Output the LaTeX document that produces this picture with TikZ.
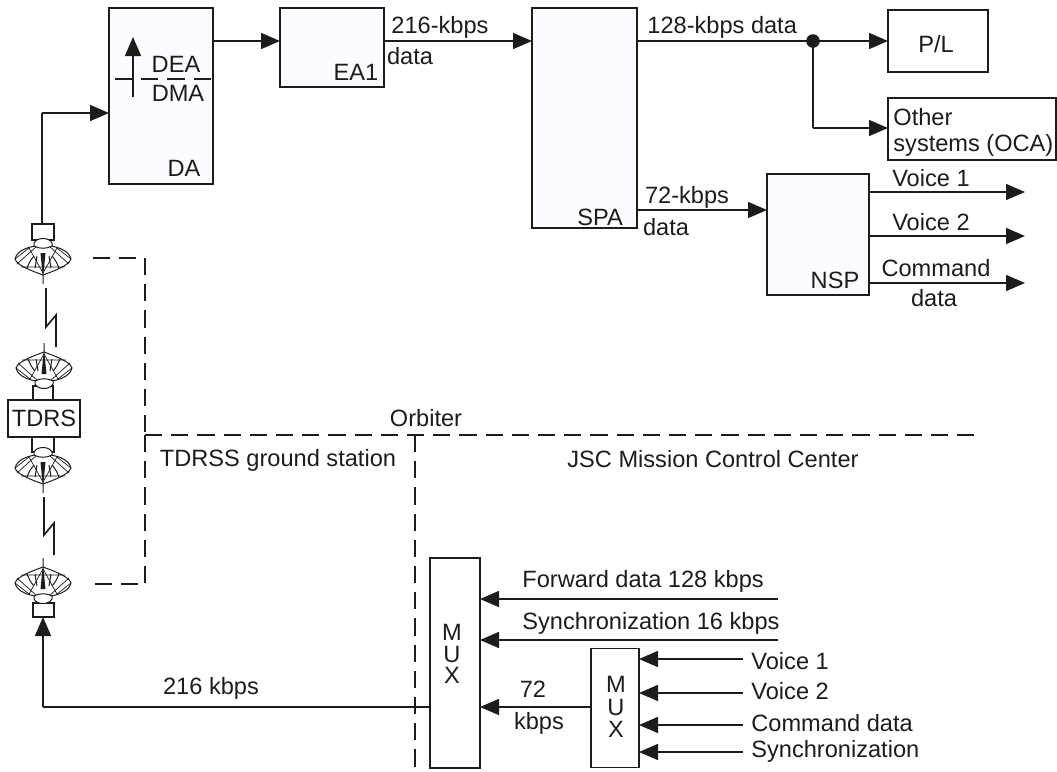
\documentclass[tikz,border=0pt]{standalone}
\usepackage{fontspec}
\setmainfont{Liberation Sans}
\usepackage{tikz}
\usetikzlibrary{arrows.meta,positioning,calc}
\definecolor{ink}{HTML}{1E1C1A}
\definecolor{panel}{HTML}{FBFCFF}

\begin{document}
\begin{tikzpicture}[
  x=0.5pt,y=-0.5pt,
  unit/.style={draw=ink,fill=panel,line width=0.8pt,inner sep=0pt,outer sep=0pt},
  plainbox/.style={draw=ink,fill=white,line width=0.7pt,inner sep=0pt,outer sep=0pt},
  txt/.style={font=\fontsize{11.8}{14}\selectfont,text=ink,inner sep=0pt},
  link/.style={ink,line width=0.8pt},
  flow/.style={ink,line width=0.8pt,-{Triangle[length=9.5pt,width=8pt]}},
  bound/.style={ink,line width=0.7pt,dash pattern=on 8.6pt off 4.5pt},
  bolt/.style={ink,line width=0.8pt},
  pics/dish/.style={code={
    \draw[ink,line width=0.5pt,fill=white] (-28,0) .. controls (-24,-18) and (24,-18) .. (28,0)
      .. controls (26,7) and (8,13) .. (0,16) .. controls (-8,13) and (-26,7) .. (-28,0) -- cycle;
    \draw[ink,line width=0.35pt] (-28,0) -- (-14,-11) -- (0,14) -- (14,-11) -- (28,0);
    \draw[ink,line width=0.35pt] (-26,5) -- (-6,-13) (26,5) -- (6,-13) (-22,8) -- (22,8);
    \draw[ink,line width=0.5pt] (-16,9) .. controls (-13,2) .. (-9,-3) (16,9) .. controls (13,2) .. (9,-3)
      (-8,9) -- (-6,-3) (8,9) -- (6,-3);
    \fill[ink] (-2.5,-6) -- (2.5,-6) -- (0.5,14) -- (0.5,25) -- (-0.5,25) -- (-0.5,14) -- cycle;
    \draw[ink,line width=0.5pt,fill=white] (-9,-13) -- (-9,-16) .. controls (-6,-22) and (6,-22) .. (9,-16) -- (9,-13)
      .. controls (4,-10) and (-4,-10) .. (-9,-13) -- cycle;
  }}
]
  % Orbiter units
  \node[unit,minimum width=52pt,minimum height=88pt] (da) at (161,96) {};
  \node[unit,minimum width=52pt,minimum height=39.5pt] (ea1) at (332,47.5) {};
  \node[unit,minimum width=52.5pt,minimum height=110pt] (spa) at (584.5,118) {};
  \node[unit,minimum width=51pt,minimum height=60.5pt] (nsp) at (818,234.5) {};
  \node[plainbox,minimum width=50pt,minimum height=31pt] (pl) at (938,41) {};
  \node[plainbox,minimum width=84pt,minimum height=31pt] (ocabox) at (972,129) {};

  % Ground multiplexers
  \node[plainbox,line width=0.8pt,minimum width=25pt,minimum height=105pt] (muxa) at (455,663) {};
  \node[plainbox,line width=0.8pt,minimum width=24pt,minimum height=59.5pt] (muxb) at (615,708) {};

  % Box captions
  \node[txt] (dacap) at (184,168) {DA};
  \node[txt] (deacap) at (176,64) {DEA};
  \node[txt] (dmacap) at (178,93) {DMA};
  \node[txt] (eacap) at (356,72) {EA1};
  \node[txt] (spacap) at (600,217) {SPA};
  \node[txt] (nspcap) at (835,280) {NSP};
  \node[txt] (plcap) at (936,44) {P/L};
  \node[txt,anchor=west] (ocaa) at (893,117) {Other};
  \node[txt,anchor=west] (ocab) at (893,145) {systems (OCA)};
  \node[txt,align=center,font=\fontsize{11.8}{10.6}\selectfont] (muxacap) at (452,654) {M\\U\\X};
  \node[txt,align=center,font=\fontsize{11.8}{11.3}\selectfont] (muxbcap) at (616,707) {M\\U\\X};

  % Inside DA
  \coordinate (dal) at (115,79);
  \coordinate (arb) at (133,97);
  \coordinate (art) at (133,37);
  \draw[bound,line width=0.6pt] (dal) -- (da.east |- dal);
  \draw[ink,line width=0.6pt,-{Triangle[length=9.5pt,width=8pt]}] (arb) -- (art);

  % Antennas and relay
  \node[plainbox,minimum width=11pt,minimum height=8pt] (hda) at (43,232) {};
  \node[plainbox,minimum width=10pt,minimum height=7pt] (hdb) at (43,393) {};
  \node[plainbox,minimum width=36pt,minimum height=18.5pt] (tdrs) at (44,418.5) {};
  \node[txt] (tdrscap) at (44,418) {TDRS};
  \node[plainbox,minimum width=11pt,minimum height=7.5pt] (hdc) at (43,444.5) {};
  \node[plainbox,minimum width=10.5pt,minimum height=7pt] (hdd) at (43.5,610) {};
  \pic at (43,259) {dish};
  \pic at (44,368) [yscale=-1] {dish};
  \pic at (43,468) {dish};
  \pic at (43,583) [yscale=-1] {dish};

  % Radio links
  \coordinate (ba) at (46,288);
  \coordinate (bb) at (46,327);
  \coordinate (bc) at (56,315);
  \coordinate (bd) at (56,347);
  \draw[bolt] (ba) -- (bb) -- (bc) -- (bd);
  \coordinate (be) at (44,497);
  \coordinate (bf) at (44,535);
  \coordinate (bg) at (54,523);
  \coordinate (bh) at (54,555);
  \draw[bolt] (be) -- (bf) -- (bg) -- (bh);

  % Orbiter paths
  \coordinate (dain) at (42,113);
  \coordinate (daout) at (213,41);
  \coordinate (spain) at (384,41);
  \coordinate (spaout) at (637,41);
  \coordinate (branch) at (813,41);
  \coordinate (ocain) at (813,128);
  \coordinate (nspin) at (637,210);
  \draw[link] (hda.north -| dain) -- (dain);
  \draw[flow] (dain) -- (da.west |- dain);
  \draw[flow] (daout) -- (ea1.west |- daout);
  \draw[flow] (spain) -- (spa.west |- spain);
  \draw[flow] (spaout) -- (pl.west |- spaout);
  \fill[ink] (branch) circle (3.4pt);
  \draw[link] (branch) -- (ocain);
  \draw[flow] (ocain) -- (ocabox.west |- ocain);
  \draw[flow] (nspin) -- (nsp.west |- nspin);
  \foreach \n/\y in {va/192,vb/236,vc/283}{
    \coordinate (\n) at (1025,\y);
    \draw[flow] (nsp.east |- \n) -- (\n);
  }
  \node[txt] (lab216) at (440,27) {216-kbps};
  \node[txt] (labd1) at (410,56) {data};
  \node[txt,anchor=west] (lab128) at (647,27) {128-kbps data};
  \node[txt] (lab72) at (687,197) {72-kbps};
  \node[txt] (labd2) at (666,227) {data};
  \node[txt] (labv1) at (931,178) {Voice 1};
  \node[txt] (labv2) at (931,222) {Voice 2};
  \node[txt] (labcmd) at (936,268) {Command};
  \node[txt] (labd3) at (934,298) {data};

  % Boundaries
  \coordinate (ta) at (93,258);
  \coordinate (tb) at (145,258);
  \coordinate (tc) at (145,435);
  \coordinate (td) at (145,584);
  \coordinate (te) at (95,584);
  \coordinate (tf) at (975,435);
  \coordinate (tg) at (415,435);
  \coordinate (th) at (415,770);
  \draw[bound] (ta) -- (tb);
  \draw[bound] (tb) -- (tc);
  \draw[bound] (te) -- (td);
  \draw[bound] (tc) -- (td);
  \draw[bound] (tc) -- (tf);
  \draw[bound] (tg) -- (th);
  \node[txt] (laborb) at (426,418) {Orbiter};
  \node[txt] (labtg) at (278,460) {TDRSS ground station};
  \node[txt] (labjsc) at (713,459) {JSC Mission Control Center};

  % Ground paths
  \coordinate (upc) at (43,707);
  \coordinate (fda) at (778,599);
  \coordinate (fdb) at (778,640);
  \coordinate (mid) at (591,707);
  \draw[link] (muxa.west |- upc) -- (upc);
  \draw[flow] (upc) -- (hdd.south -| upc);
  \draw[flow] (fda) -- (muxa.east |- fda);
  \draw[flow] (fdb) -- (muxa.east |- fdb);
  \draw[flow] (mid) -- (muxa.east |- mid);
  \foreach \n/\y in {ia/659,ib/693,ic/725,id/752}{
    \coordinate (\n) at (743,\y);
    \draw[flow] (\n) -- (muxb.east |- \n);
  }
  \node[txt] (lab216k) at (211,688) {216 kbps};
  \node[txt,anchor=west] (labfwd) at (522,581) {Forward data 128 kbps};
  \node[txt,anchor=west] (labsyn) at (522,623) {Synchronization 16 kbps};
  \node[txt] (lab72k) at (533,689) {72};
  \node[txt] (labkb) at (539,723) {kbps};
  \node[txt,anchor=west] (labia) at (751,661) {Voice 1};
  \node[txt,anchor=west] (labib) at (751,691) {Voice 2};
  \node[txt,anchor=west] (labic) at (751,723) {Command data};
  \node[txt,anchor=west] (labid) at (751,751) {Synchronization};

  \useasboundingbox (0,0) rectangle (1057,772);
\end{tikzpicture}
\end{document}
